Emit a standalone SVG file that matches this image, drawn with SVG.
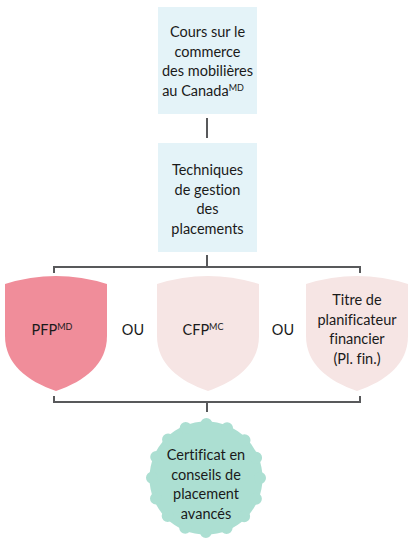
<svg xmlns="http://www.w3.org/2000/svg" width="413" height="539" viewBox="0 0 413 539">
<style>
.t{font-family:Lato,"Open Sans","Liberation Sans",sans-serif;font-size:14.5px;fill:#1a1a1a;text-anchor:middle;font-variant-ligatures:none;font-feature-settings:"liga" 0}
.sup{font-size:9px}
.box{fill:#e4f3f8}
.ln{fill:none;stroke:#58595b;stroke-width:2}
</style>
<defs>
<path id="shield" d="M0,8 Q51,-8 102,8 L102,60 C102,88 80,105 51,115 C22,105 0,88 0,60 Z"/>
</defs>
<g id="connectors">
<line class="ln" x1="207" y1="118" x2="207" y2="138"/>
<line class="ln" x1="207" y1="255" x2="207" y2="267"/>
<polyline class="ln" points="54,273 54,267 360,267 360,273"/>
<polyline class="ln" points="54,396 54,402 360,402 360,396"/>
<line class="ln" x1="207" y1="402" x2="207" y2="412"/>
</g>
<g id="node-cours">
<rect class="box" x="158" y="7" width="99" height="107"/>
<text class="t"><tspan x="207.5" y="37">Cours sur le</tspan><tspan x="207.5" y="56.5">commerce</tspan><tspan x="207.5" y="76">des mobilières</tspan><tspan x="203" y="95.5">au Canada<tspan class="sup" dy="-5">MD</tspan></tspan></text>
</g>
<g id="node-techniques">
<rect class="box" x="158" y="143" width="99" height="109"/>
<text class="t"><tspan x="207.5" y="175">Techniques</tspan><tspan x="207.5" y="194.5">de gestion</tspan><tspan x="207.5" y="214">des</tspan><tspan x="207.5" y="233.5">placements</tspan></text>
</g>
<g id="node-pfp">
<use href="#shield" transform="translate(5,276)" fill="#f08d9a"/>
<text class="t" x="52" y="335">PFP<tspan class="sup" dy="-5">MD</tspan></text>
</g>
<text class="t" x="133" y="335">OU</text>
<g id="node-cfp">
<use href="#shield" transform="translate(157,276)" fill="#f6e5e4"/>
<text class="t" x="203" y="335">CFP<tspan class="sup" dy="-5">MC</tspan></text>
</g>
<text class="t" x="283" y="335">OU</text>
<g id="node-plfin">
<use href="#shield" transform="translate(306,276)" fill="#f6e5e4"/>
<text class="t"><tspan x="357" y="305">Titre de</tspan><tspan x="357" y="324.5">planificateur</tspan><tspan x="357" y="344">financier</tspan><tspan x="357" y="363.5">(Pl. fin.)</tspan></text>
</g>
<g id="node-certificat">
<circle cx="206" cy="478" r="56.5" fill="#acdfd2"/>
<circle cx="206" cy="478" r="54" fill="none" stroke="#acdfd2" stroke-width="12" stroke-linecap="round" stroke-dasharray="0 21.206"/>
<text class="t"><tspan x="206" y="460">Certificat en</tspan><tspan x="206" y="479.5">conseils de</tspan><tspan x="206" y="499">placement</tspan><tspan x="206" y="518.5">avancés</tspan></text>
</g>
</svg>
